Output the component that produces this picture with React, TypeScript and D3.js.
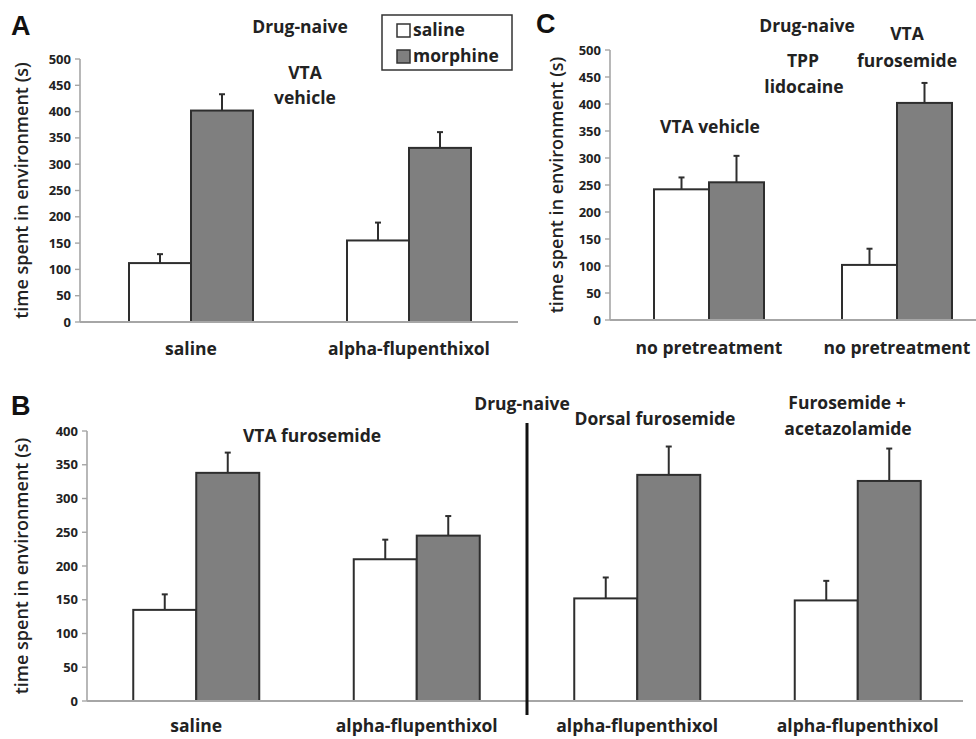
import React from "react";
import * as d3 from "d3";

// ---- Data ----
const seriesNames = ["saline", "morphine"];

const panelACategories = ["saline", "alpha-flupenthixol"];
const panelASaline = [112, 155];
const panelASalineErr = [17, 34];
const panelAMorphine = [402, 331];
const panelAMorphineErr = [31, 30];
const panelATicks = [0, 50, 100, 150, 200, 250, 300, 350, 400, 450, 500];

const panelCCategories = ["no pretreatment", "no pretreatment"];
const panelCSaline = [242, 102];
const panelCSalineErr = [22, 30];
const panelCMorphine = [255, 402];
const panelCMorphineErr = [49, 37];
const panelCTicks = [0, 50, 100, 150, 200, 250, 300, 350, 400, 450, 500];

const panelBCategories = ["saline", "alpha-flupenthixol", "alpha-flupenthixol", "alpha-flupenthixol"];
const panelBSaline = [135, 210, 152, 149];
const panelBSalineErr = [23, 29, 31, 29];
const panelBMorphine = [338, 245, 335, 326];
const panelBMorphineErr = [30, 29, 42, 48];
const panelBTicks = [0, 50, 100, 150, 200, 250, 300, 350, 400];

const FONT = "'Open Sans', 'DejaVu Sans', sans-serif";
const GRAY = "#7f7f7f";
const BAR_STROKE = "#2e2e2e";
const AXIS = "#a6a6a6";
const LABEL_SIZE = 17.5;

type PanelProps = {
  categories: string[];
  saline: number[];
  salineErr: number[];
  morphine: number[];
  morphineErr: number[];
  ticks: number[];
  yMax: number;
  axisX: number;
  axisEnd: number;
  y0: number;
  yTop: number;
  bandRange: [number, number];
  barW: number;
  labelY: number;
  titleX: number;
};

function Panel(p: PanelProps) {
  const y = d3.scaleLinear().domain([0, p.yMax]).range([p.y0, p.yTop]);
  const x = d3
    .scaleBand<number>()
    .domain(p.categories.map((_, i) => i))
    .range(p.bandRange)
    .padding(0);
  const inner = d3.scaleBand<string>().domain(seriesNames).range([-p.barW, p.barW]).padding(0);
  const vals: Record<string, number[]> = { saline: p.saline, morphine: p.morphine };
  const errs: Record<string, number[]> = { saline: p.salineErr, morphine: p.morphineErr };
  const midY = (p.y0 + p.yTop) / 2;
  return (
    <g>
      {/* y axis */}
      <line x1={p.axisX} x2={p.axisX} y1={p.y0} y2={p.yTop} stroke={AXIS} strokeWidth={1.6} />
      {p.ticks.map((t) => (
        <g key={t}>
          <line x1={p.axisX - 5} x2={p.axisX} y1={y(t)} y2={y(t)} stroke={AXIS} strokeWidth={1.4} />
          <text
            x={p.axisX - 9}
            y={y(t)}
            dy="0.35em"
            textAnchor="end"
            fontFamily={FONT}
            fontWeight={700}
            fontSize={13}
            fill="#222"
          >
            {t}
          </text>
        </g>
      ))}
      <text
        transform={`translate(${p.titleX},${midY}) rotate(-90)`}
        textAnchor="middle"
        fontFamily={FONT}
        fontSize={18}
        fontWeight={600}
        fill="#222"
      >
        time spent in environment (s)
      </text>
      {/* bars */}
      {p.categories.map((c, i) => {
        const cx = (x(i) as number) + x.bandwidth() / 2;
        return (
          <g key={i}>
            {seriesNames.map((s) => {
              const v = vals[s][i];
              const e = errs[s][i];
              const bx = cx + (inner(s) as number);
              const bw = inner.bandwidth();
              const mx = bx + bw / 2;
              return (
                <g key={s}>
                  <line x1={mx} x2={mx} y1={y(v)} y2={y(v + e)} stroke={BAR_STROKE} strokeWidth={2} />
                  <line x1={mx - 3} x2={mx + 3} y1={y(v + e)} y2={y(v + e)} stroke={BAR_STROKE} strokeWidth={2} />
                  <rect
                    x={bx}
                    y={y(v)}
                    width={bw}
                    height={p.y0 - y(v)}
                    fill={s === "saline" ? "#ffffff" : GRAY}
                    stroke={BAR_STROKE}
                    strokeWidth={2}
                  />
                </g>
              );
            })}
            <text
              x={cx}
              y={p.labelY}
              textAnchor="middle"
              fontFamily={FONT}
              fontWeight={700}
              fontSize={LABEL_SIZE}
              fill="#222"
            >
              {c}
            </text>
          </g>
        );
      })}
      {/* x axis */}
      <line x1={p.axisX} x2={p.axisEnd} y1={p.y0} y2={p.y0} stroke={AXIS} strokeWidth={2} />
    </g>
  );
}

function Label({ x, y, children }: { x: number; y: number; children: React.ReactNode }) {
  return (
    <text x={x} y={y} textAnchor="middle" fontFamily={FONT} fontWeight={700} fontSize={LABEL_SIZE} fill="#222">
      {children}
    </text>
  );
}

function Letter({ x, y, children }: { x: number; y: number; children: React.ReactNode }) {
  return (
    <text x={x} y={y} fontFamily="'Liberation Sans', Arial, sans-serif" fontWeight={700} fontSize={27} fill="#111">
      {children}
    </text>
  );
}

export default function App() {
  return (
    <svg
      width={976}
      height={739}
      viewBox="0 0 976 739"
      style={{ position: "absolute", left: 0, top: 0, background: "#fff" }}
    >
      <rect width={976} height={739} fill="#fff" />
      {/* Panel A */}
      <Letter x={11} y={35}>A</Letter>
      <Panel
        categories={panelACategories}
        saline={panelASaline}
        salineErr={panelASalineErr}
        morphine={panelAMorphine}
        morphineErr={panelAMorphineErr}
        ticks={panelATicks}
        yMax={500}
        axisX={80}
        axisEnd={518}
        y0={322}
        yTop={59}
        bandRange={[82, 518]}
        barW={62}
        labelY={355}
        titleX={28}
      />
      <Label x={300} y={33}>Drug-naive</Label>
      <Label x={305} y={79}>VTA</Label>
      <Label x={305} y={104}>vehicle</Label>
      {/* legend */}
      <rect x={382} y={15} width={130} height={55} fill="#fff" stroke="#333" strokeWidth={1.5} />
      <rect x={397} y={24} width={13} height={13} fill="#fff" stroke="#333" strokeWidth={1.5} />
      <rect x={397} y={50} width={13} height={13} fill={GRAY} stroke="#333" strokeWidth={1.5} />
      <text x={413} y={36} fontFamily={FONT} fontWeight={700} fontSize={LABEL_SIZE} fill="#222">saline</text>
      <text x={413} y={62} fontFamily={FONT} fontWeight={700} fontSize={LABEL_SIZE} fill="#222">morphine</text>

      {/* Panel C */}
      <Letter x={536} y={33}>C</Letter>
      <Panel
        categories={panelCCategories}
        saline={panelCSaline}
        salineErr={panelCSalineErr}
        morphine={panelCMorphine}
        morphineErr={panelCMorphineErr}
        ticks={panelCTicks}
        yMax={500}
        axisX={610}
        axisEnd={976}
        y0={320}
        yTop={50}
        bandRange={[615, 991]}
        barW={55}
        labelY={354}
        titleX={563}
      />
      <Label x={807} y={32}>Drug-naive</Label>
      <Label x={907} y={40}>VTA</Label>
      <Label x={907} y={67}>furosemide</Label>
      <Label x={803} y={67}>TPP</Label>
      <Label x={804} y={93}>lidocaine</Label>
      <Label x={710} y={133}>VTA vehicle</Label>

      {/* Panel B */}
      <Letter x={11} y={415}>B</Letter>
      <Panel
        categories={panelBCategories}
        saline={panelBSaline}
        salineErr={panelBSalineErr}
        morphine={panelBMorphine}
        morphineErr={panelBMorphineErr}
        ticks={panelBTicks}
        yMax={400}
        axisX={87}
        axisEnd={963}
        y0={701}
        yTop={431}
        bandRange={[86, 968]}
        barW={63}
        labelY={732}
        titleX={28}
      />
      <line x1={527} x2={527} y1={423} y2={715} stroke="#111" strokeWidth={3} />
      <Label x={522} y={410}>Drug-naive</Label>
      <Label x={312} y={442}>VTA furosemide</Label>
      <Label x={655} y={425}>Dorsal furosemide</Label>
      <Label x={847} y={409}>Furosemide +</Label>
      <Label x={848} y={435}>acetazolamide</Label>
    </svg>
  );
}
